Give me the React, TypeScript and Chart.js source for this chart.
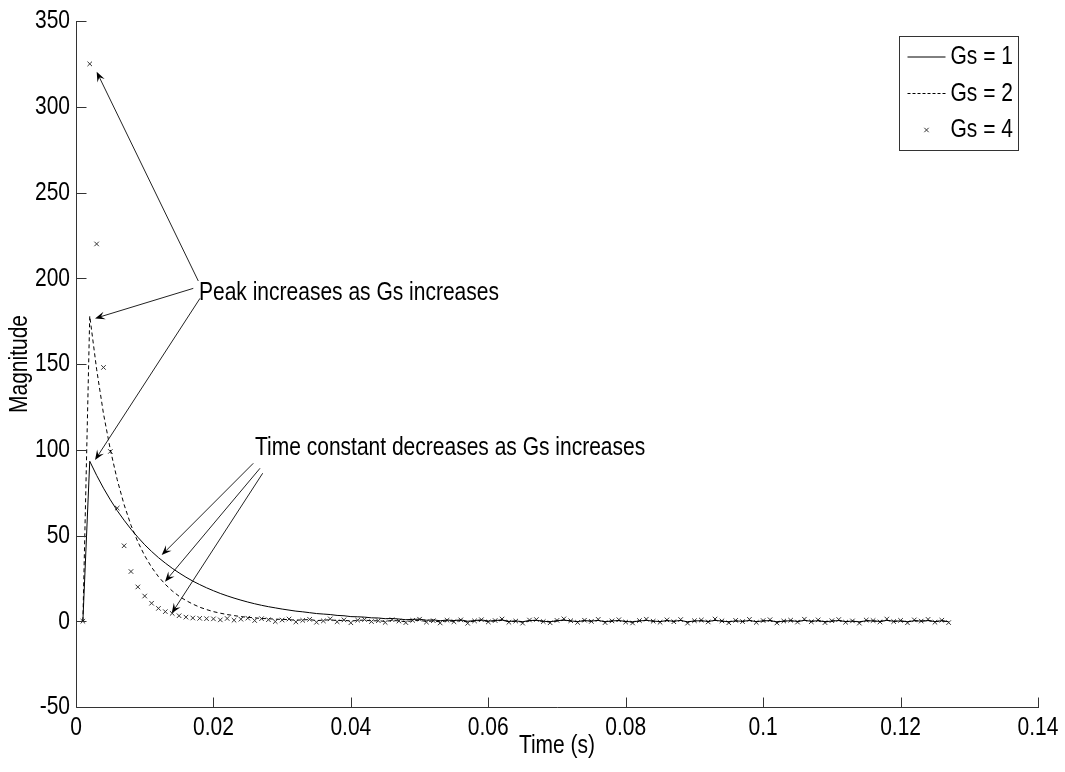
import React, { useEffect, useRef } from 'react';
import { Chart, registerables } from 'chart.js';
Chart.register(...registerables);

// ---- data ----
const sampleStep = 0.001; // sampling interval (s), samples at k*step, k=1..127
const gs1 = [
  0, 93.3, 85.1, 77.6, 70.8, 64.5, 58.9, 53.7, 49.0, 44.6,
  40.7, 37.1, 33.9, 30.9, 28.2, 25.7, 23.4, 21.4, 19.5, 17.8,
  16.2, 14.8, 13.5, 12.3, 11.2, 10.2, 9.3, 8.5, 7.8, 7.1,
  6.5, 5.9, 5.5, 5.0, 4.5, 4.2, 3.9, 3.4, 3.2, 2.7,
  2.6, 2.4, 2.0, 1.9, 1.5, 1.6, 1.3, 0.9, 1.1, 1.2,
  0.6, 0.8, 0.3, 0.7, 0.4, 0.8, 0.0, 0.4, 0.8, 0.1,
  0.4, 0.8, -0.1, 0.2, -0.3, 0.4, 0.6, 0.0, -0.3, 0.3,
  0.7, 0.2, -0.2, 0.4, 0.1, 0.5, -0.3, 0.2, 0.4, -0.1,
  -0.4, 0.2, 0.5, 0.1, -0.2, 0.4, 0.0, 0.5, -0.4, 0.2,
  0.3, -0.1, 0.5, 0.1, -0.3, 0.2, 0.0, 0.4, -0.2, 0.2,
  0.4, -0.4, 0.1, 0.3, -0.1, 0.5, 0.0, 0.3, -0.3, 0.1,
  0.4, -0.2, 0.1, -0.4, 0.3, 0.2, -0.1, 0.5, 0.0, 0.2,
  -0.3, 0.3, 0.1, 0.4, -0.2, 0.3, -0.3,
];
const gs2 = [
  0, 178, 147, 121, 100, 82.5, 68, 56, 46.3, 38.2,
  31.5, 26, 21.5, 17.7, 14.6, 12.1, 10, 8.2, 6.8, 5.6,
  4.7, 3.9, 3.3, 2.7, 2.3, 2.0, 1.6, 1.5, 1.2, 1.1,
  0.9, 0.6, 0.8, 1.0, 0.4, 0.6, 0.9, 0.3, 0.6, 0.1,
  0.5, 0.7, 0.2, 0.3, -0.1, 0.5, 0.2, -0.3, 0.3, 0.6,
  -0.2, 0.2, -0.4, 0.3, -0.1, 0.4, -0.5, 0.1, 0.5, -0.2,
  0.2, 0.6, -0.3, 0.0, -0.5, 0.3, 0.5, -0.1, -0.4, 0.2,
  0.7, 0.1, -0.3, 0.3, 0.0, 0.5, -0.4, 0.1, 0.4, -0.2,
  -0.5, 0.2, 0.6, 0.0, -0.3, 0.4, -0.1, 0.5, -0.5, 0.1,
  0.3, -0.2, 0.6, 0.1, -0.4, 0.2, -0.1, 0.5, -0.3, 0.2,
  0.4, -0.5, 0.0, 0.3, -0.2, 0.6, -0.1, 0.4, -0.4, 0.1,
  0.5, -0.3, 0.1, -0.5, 0.3, 0.2, -0.2, 0.6, -0.1, 0.2,
  -0.4, 0.4, 0.0, 0.5, -0.3, 0.3, -0.4,
];
const gs4 = [
  0, 325, 220, 148, 99, 66, 44, 29, 20, 14.7,
  10.5, 7.5, 5.6, 4.6, 3.2, 2.4, 1.9, 1.7, 1.5, 1.4,
  0.8, 1.6, 0.6, 1.2, 1.8, 0.4, 1.5, 0.9, -0.2, 0.7,
  1.3, -0.4, 0.5, 1.1, -0.6, 0.2, 1.4, -0.3, 0.8, -0.9,
  0.6, 1.0, -0.2, 0.3, -0.7, 0.9, 0.1, -0.8, 0.5, 1.2,
  -0.5, 0.3, -1.0, 0.6, -0.3, 0.8, -1.2, 0.2, 0.9, -0.4,
  0.4, 1.3, -0.6, 0.1, -1.1, 0.7, 1.0, -0.2, -0.9, 0.5,
  1.4, 0.3, -0.7, 0.6, -0.1, 1.1, -0.8, 0.2, 0.9, -0.5,
  -1.0, 0.4, 1.2, 0.0, -0.6, 0.8, -0.3, 1.0, -1.1, 0.3,
  0.7, -0.4, 1.3, 0.2, -0.9, 0.5, -0.2, 1.1, -0.7, 0.4,
  0.9, -1.0, 0.1, 0.6, -0.5, 1.2, -0.3, 0.8, -0.8, 0.3,
  1.0, -0.6, 0.2, -1.1, 0.7, 0.4, -0.4, 1.3, -0.2, 0.5,
  -0.9, 0.8, 0.1, 1.1, -0.6, 0.6, -0.8,
];
const seriesLabels = ['Gs = 1', 'Gs = 2', 'Gs = 4'];
const xTickValues = [0, 0.02, 0.04, 0.06, 0.08, 0.1, 0.12, 0.14];
const xTickLabels = ['0', '0.02', '0.04', '0.06', '0.08', '0.1', '0.12', '0.14'];
const yTickValues = [-50, 0, 50, 100, 150, 200, 250, 300, 350];
const yTickLabels = ['-50', '0', '50', '100', '150', '200', '250', '300', '350'];
const xTitle = 'Time (s)';
const yTitle = 'Magnitude';
const peakText = 'Peak increases as Gs increases';
const tauText = 'Time constant decreases as Gs increases';
const peakTextAt = [0.0179, 191.4];
const tauTextAt = [0.02605, 101];
// [tailX, tailY, tipX, tipY] in data units
const peakArrows = [
  [0.0178, 198.4, 0.00301, 320.4],
  [0.01707, 194.1, 0.00277, 176.6],
  [0.01805, 188.3, 0.00277, 94.0],
];
const tauArrows = [
  [0.0258, 92.1, 0.01247, 38.6],
  [0.02678, 89.2, 0.01295, 23.1],
  [0.02717, 86.3, 0.01393, 4.6],
];

const toPoints = (vals: number[]) => vals.map((v, i) => ({ x: (i + 1) * sampleStep, y: v }));

const FONT_FAMILY = '"Liberation Sans", Arial, sans-serif';
const FONT_SIZE = 21;
const STRETCH = 1.27;

function drawText(ctx: CanvasRenderingContext2D, text: string, x: number, y: number,
  align: CanvasTextAlign, baseline: CanvasTextBaseline, rotate = 0) {
  ctx.save();
  ctx.translate(x, y);
  if (rotate) ctx.rotate(rotate);
  ctx.scale(1, STRETCH); // tall, narrow glyphs as in the original figure
  ctx.font = `${FONT_SIZE}px ${FONT_FAMILY}`;
  ctx.fillStyle = '#000';
  ctx.textAlign = align;
  ctx.textBaseline = baseline;
  ctx.fillText(text, 0, 0);
  ctx.restore();
}

function drawArrow(ctx: CanvasRenderingContext2D, x1: number, y1: number, x2: number, y2: number) {
  const ang = Math.atan2(y2 - y1, x2 - x1);
  const L = 10, W = 4, back = 6;
  ctx.save();
  ctx.strokeStyle = '#222';
  ctx.lineWidth = 1;
  ctx.beginPath();
  ctx.moveTo(x1, y1);
  ctx.lineTo(x2 - Math.cos(ang) * back, y2 - Math.sin(ang) * back);
  ctx.stroke();
  ctx.translate(x2, y2);
  ctx.rotate(ang);
  ctx.fillStyle = '#000';
  ctx.beginPath();
  ctx.moveTo(0, 0);
  ctx.lineTo(-L, -W);
  ctx.lineTo(-back, 0);
  ctx.lineTo(-L, W);
  ctx.closePath();
  ctx.fill();
  ctx.restore();
}

const overlayPlugin = {
  id: 'matlabOverlay',
  afterDraw(chart: any) {
    const { ctx, chartArea: a, scales } = chart;
    const xs = scales.x, ys = scales.y;
    ctx.save();
    // axes lines + inward ticks
    ctx.strokeStyle = '#333';
    ctx.lineWidth = 1;
    ctx.beginPath();
    const L = Math.round(a.left) + 0.5;
    const B = Math.round(a.bottom) + 0.5;
    ctx.moveTo(L, Math.round(a.top));
    ctx.lineTo(L, B);
    ctx.lineTo(Math.round(a.right) + 1, B);
    xTickValues.forEach((v) => {
      const px = Math.round(xs.getPixelForValue(v)) + 0.5;
      ctx.moveTo(px, B);
      ctx.lineTo(px, B - 10);
    });
    yTickValues.forEach((v) => {
      const py = Math.round(ys.getPixelForValue(v)) + 0.5;
      ctx.moveTo(L, py);
      ctx.lineTo(L + 10, py);
    });
    ctx.stroke();

    // tick labels
    xTickValues.forEach((v, i) => {
      drawText(ctx, xTickLabels[i], xs.getPixelForValue(v), a.bottom + 28, 'center', 'alphabetic');
    });
    yTickValues.forEach((v, i) => {
      drawText(ctx, yTickLabels[i], a.left - 6, ys.getPixelForValue(v), 'right', 'middle');
    });

    // axis titles
    drawText(ctx, xTitle, (a.left + a.right) / 2, a.bottom + 39, 'center', 'middle');
    drawText(ctx, yTitle, 20, (a.top + a.bottom) / 2, 'center', 'middle', -Math.PI / 2);

    // annotations
    drawText(ctx, peakText, xs.getPixelForValue(peakTextAt[0]), ys.getPixelForValue(peakTextAt[1]), 'left', 'middle');
    drawText(ctx, tauText, xs.getPixelForValue(tauTextAt[0]), ys.getPixelForValue(tauTextAt[1]), 'left', 'middle');
    [...peakArrows, ...tauArrows].forEach(([tx, ty, hx, hy]) => {
      drawArrow(ctx, xs.getPixelForValue(tx), ys.getPixelForValue(ty), xs.getPixelForValue(hx), ys.getPixelForValue(hy));
    });

    // legend
    const bx = 899.5, by = 36.5, bw = 119, bh = 114;
    ctx.fillStyle = '#fff';
    ctx.fillRect(bx, by, bw, bh);
    ctx.strokeStyle = '#333';
    ctx.lineWidth = 1;
    ctx.strokeRect(bx, by, bw, bh);
    const rows = [by + 20.5, by + 57, by + 93.5];
    ctx.strokeStyle = '#000';
    ctx.beginPath();
    ctx.moveTo(bx + 8, rows[0]); ctx.lineTo(bx + 46, rows[0]);
    ctx.stroke();
    ctx.save();
    ctx.setLineDash([3, 2]);
    ctx.beginPath();
    ctx.moveTo(bx + 8, rows[1]); ctx.lineTo(bx + 46, rows[1]);
    ctx.stroke();
    ctx.restore();
    const mx = bx + 27, my = rows[2], r = 2.2;
    ctx.strokeStyle = '#333';
    ctx.beginPath();
    ctx.moveTo(mx - r, my - r); ctx.lineTo(mx + r, my + r);
    ctx.moveTo(mx - r, my + r); ctx.lineTo(mx + r, my - r);
    ctx.stroke();
    seriesLabels.forEach((s, i) => drawText(ctx, s, bx + 51, rows[i], 'left', 'middle'));
    ctx.restore();
  },
};

export default function App() {
  const canvasRef = useRef<HTMLCanvasElement | null>(null);
  useEffect(() => {
    if (!canvasRef.current) return;
    const chart = new Chart(canvasRef.current, {
      type: 'line',
      data: {
        datasets: [
          {
            label: seriesLabels[0], data: toPoints(gs1), borderColor: '#000', borderWidth: 1,
            pointRadius: 0, fill: false, tension: 0,
          },
          {
            label: seriesLabels[1], data: toPoints(gs2), borderColor: '#000', borderWidth: 1,
            borderDash: [4, 3], pointRadius: 0, fill: false, tension: 0,
          },
          {
            label: seriesLabels[2], data: toPoints(gs4), showLine: false, pointStyle: 'crossRot',
            pointRadius: 3.2, borderColor: '#333', pointBorderColor: '#333', pointBorderWidth: 1,
            backgroundColor: '#333',
          },
        ],
      },
      options: {
        responsive: false,
        animation: false,
        events: [],
        layout: { padding: { left: 76, right: 27, top: 21, bottom: 65 } },
        scales: {
          x: { type: 'linear', min: 0, max: 0.14, display: false },
          y: { type: 'linear', min: -50, max: 350, display: false },
        },
        plugins: { legend: { display: false }, tooltip: { enabled: false } },
      },
      plugins: [overlayPlugin],
    });
    return () => chart.destroy();
  }, []);
  return (
    <div style={{ position: 'fixed', left: 0, top: 0, width: 1065, height: 772, background: '#fff' }}>
      <canvas ref={canvasRef} width={1065} height={772} style={{ display: 'block' }} />
    </div>
  );
}
